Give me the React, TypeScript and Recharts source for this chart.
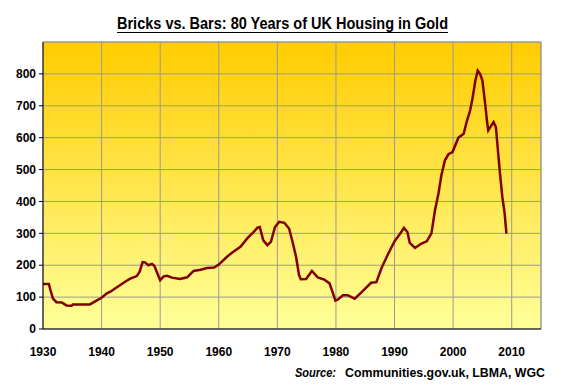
import { LineChart, Line, XAxis, YAxis, CartesianGrid, ReferenceLine } from 'recharts';

// house price in ounces of gold
const years = [
  1930, 1931, 1931.3, 1931.7, 1932.3, 1933.2, 1934, 1934.9, 1935.1, 1936.5, 1938, 1939.2,
  1940, 1940.9, 1941.5, 1942.3, 1943.2, 1944, 1944.9, 1946, 1946.5, 1947, 1947.4, 1948, 1948.6, 1949, 1949.6,
  1950, 1950.6, 1951.2, 1952, 1953.4, 1954.6, 1955.7, 1956.9, 1958, 1959.2,
  1960, 1961.5, 1962.6, 1963.7, 1964.9, 1966, 1966.6, 1967, 1967.6, 1968.3, 1968.9, 1969.6,
  1970.3, 1971.2, 1972, 1972.6, 1973.2, 1973.7, 1974, 1974.9, 1975.9, 1976.9, 1978, 1978.9, 1979.5, 1979.9,
  1980.3, 1981.2, 1982, 1983.2, 1984.3, 1986, 1986.9, 1987.8, 1988.9,
  1990, 1991, 1991.6, 1992.2, 1992.6, 1993.5, 1994.6, 1995.5, 1996.3, 1996.9, 1997.5, 1998, 1998.6, 1999.2, 1999.9,
  2000.9, 2001.8, 2002.3, 2002.9, 2003.3, 2003.8, 2004.2, 2004.6, 2005, 2005.5, 2005.8, 2006, 2006.5, 2006.9,
  2007.3, 2007.6, 2008, 2008.4, 2008.8, 2009.1,
];
const ounces = [
  141, 141, 120, 95, 84, 83, 74, 73, 77, 77, 77, 90,
  98, 112, 117, 127, 138, 148, 158, 166, 180, 210, 209, 200, 204, 198, 171,
  153, 165, 167, 161, 157, 162, 182, 186, 191, 193,
  202, 228, 244, 258, 285, 305, 318, 320, 278, 263, 273, 320,
  336, 333, 315, 273, 226, 169, 156, 157, 182, 162, 155, 143, 112, 89,
  92, 106, 106, 95, 114, 145, 147, 192, 235,
  275, 300, 317, 304, 270, 254, 268, 275, 300, 372, 425, 482, 529, 548, 555,
  600, 612, 649, 685, 722, 779, 810, 800, 779, 701, 649, 623, 638, 649,
  633, 570, 487, 414, 362, 299,
];
const xTicks = [1930, 1940, 1950, 1960, 1970, 1980, 1990, 2000, 2010];
const yTicks = [0, 100, 200, 300, 400, 500, 600, 700, 800];

const data = years.map((y, i) => ({ year: y, oz: ounces[i] }));

const FONT = 'Arial, "Liberation Sans", sans-serif';
const tickStyle = { fontFamily: FONT, fontSize: 12, fontWeight: 700, fill: '#000' };

export default function App() {
  return (
    <div style={{ position: 'absolute', left: 0, top: 0, width: 564, height: 388, background: '#fff' }}>
      <LineChart width={564} height={388} data={data} margin={{ top: 42, right: 23, bottom: 29, left: 0 }}>
        <defs>
          <linearGradient id="bg" x1="0" y1="0" x2="0" y2="1">
            <stop offset="0%" stopColor="#FFCC00" />
            <stop offset="100%" stopColor="#FFFF99" />
          </linearGradient>
        </defs>
        <CartesianGrid stroke="#999999" fill="url(#bg)" fillOpacity={1} />
        <XAxis
          dataKey="year"
          type="number"
          domain={[1930, 2015]}
          ticks={xTicks}
          allowDataOverflow
          height={30}
          tickLine={false}
          tickSize={0}
          tickMargin={18}
          stroke="#000"
          tick={tickStyle}
        />
        <YAxis
          type="number"
          domain={[0, 900]}
          ticks={yTicks}
          width={43}
          tickSize={4}
          tickMargin={3}
          stroke="#000"
          tick={tickStyle}
        />
        <ReferenceLine y={900} stroke="#999999" />
        <ReferenceLine x={2015} stroke="#999999" />
        <Line dataKey="oz" type="linear" stroke="#800000" strokeWidth={2.5} dot={false} isAnimationActive={false} />
      </LineChart>
      <svg width={564} height={388} style={{ position: 'absolute', left: 0, top: 0, pointerEvents: 'none' }}>
        <text x={117} y={29} fontFamily={FONT} fontSize={16} fontWeight={700} textLength={331} lengthAdjust="spacingAndGlyphs">
          Bricks vs. Bars: 80 Years of UK Housing in Gold
        </text>
        <line x1={117} x2={448} y1={32.5} y2={32.5} stroke="#000" strokeWidth={1} />
        <text x={295} y={377} fontFamily={FONT} fontSize={12} fontWeight={700} fontStyle="italic" textLength={41} lengthAdjust="spacingAndGlyphs">
          Source:
        </text>
        <text x={345} y={377} fontFamily={FONT} fontSize={12} fontWeight={700} textLength={200} lengthAdjust="spacingAndGlyphs">
          Communities.gov.uk, LBMA, WGC
        </text>
      </svg>
    </div>
  );
}
